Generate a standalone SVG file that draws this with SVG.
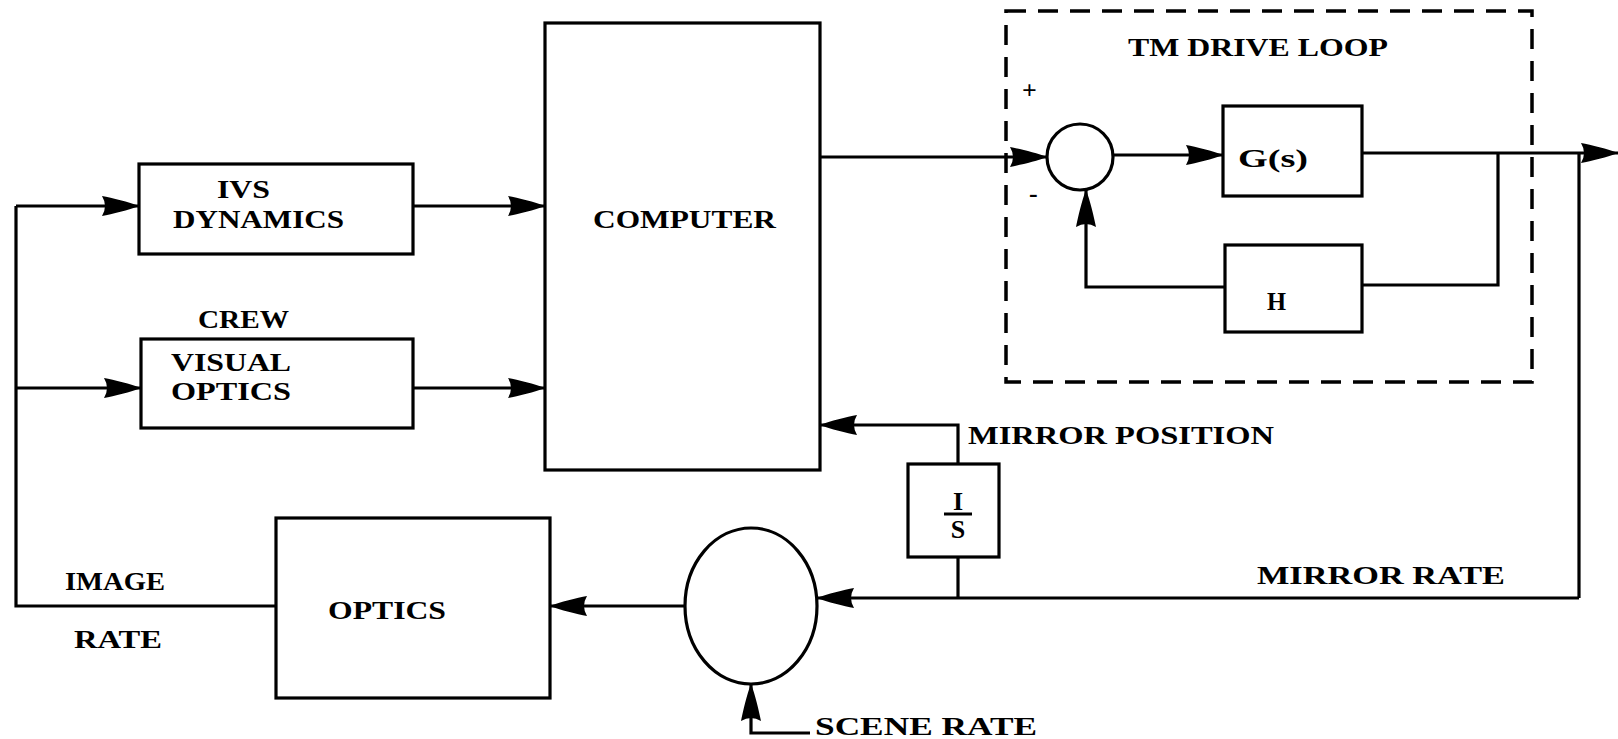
<svg xmlns="http://www.w3.org/2000/svg" width="1618" height="739" viewBox="0 0 1618 739">
<defs>
<marker id="ah" markerUnits="userSpaceOnUse" markerWidth="40" markerHeight="24" refX="37" refY="12" orient="auto" overflow="visible">
<path d="M0,2 C10,4 27,8 37,12 C27,16 10,20 0,22 Q6,12 0,2 Z" fill="#000"/>
</marker>
<style>
.box{fill:none;stroke:#000;stroke-width:3.2}
.ln{fill:none;stroke:#000;stroke-width:3.2;stroke-linejoin:miter}
.arr{fill:none;stroke:#000;stroke-width:3.2;marker-end:url(#ah)}
.dash{fill:none;stroke:#000;stroke-width:3.5;stroke-dasharray:20 12}
text{font-family:"Liberation Serif","DejaVu Serif",serif;font-weight:bold;font-size:26px;fill:#000}
</style>
</defs>
<rect width="1618" height="739" fill="#fff"/>

<g id="connectors">
<path class="ln" d="M276,606 H16 V206"/>
<path class="arr" d="M16,206 H139"/>
<path class="arr" d="M16,388 H141"/>
<path class="arr" d="M413,206 H545"/>
<path class="arr" d="M413,388 H545"/>
<path class="arr" d="M820,157 H1047"/>
<path class="arr" d="M1113,155 H1223"/>
<path class="arr" d="M1362,153 H1618"/>
<path class="ln" d="M1498,153 V285 H1362"/>
<path class="arr" d="M1225,287 H1086 V190"/>
<path class="ln" d="M1579,153 V598"/>
<path class="arr" d="M1579,598 H817"/>
<path class="ln" d="M958,598 V557"/>
<path class="arr" d="M958,464 V425 H820"/>
<path class="arr" d="M685,606 H550"/>
<path class="arr" d="M810,733 H751 V684"/>
</g>

<g id="ivs-dynamics">
<rect class="box" x="139" y="164" width="274" height="90"/>
<text x="217" y="198" textLength="53" lengthAdjust="spacingAndGlyphs">IVS</text>
<text x="173" y="228" textLength="171" lengthAdjust="spacingAndGlyphs">DYNAMICS</text>
</g>

<g id="crew-visual-optics">
<text x="198" y="328" textLength="91" lengthAdjust="spacingAndGlyphs">CREW</text>
<rect class="box" x="141" y="339" width="272" height="89"/>
<text x="171" y="371" textLength="120" lengthAdjust="spacingAndGlyphs">VISUAL</text>
<text x="171" y="400" textLength="120" lengthAdjust="spacingAndGlyphs">OPTICS</text>
</g>

<g id="computer">
<rect class="box" x="545" y="23" width="275" height="447"/>
<text x="593" y="228" textLength="183" lengthAdjust="spacingAndGlyphs">COMPUTER</text>
</g>

<g id="tm-drive-loop">
<rect class="dash" x="1006" y="11" width="526" height="371"/>
<text x="1128" y="56" textLength="260" lengthAdjust="spacingAndGlyphs">TM DRIVE LOOP</text>
<text x="1022" y="99" font-size="22">+</text>
<text x="1029" y="202" font-size="24">-</text>
</g>

<g id="sum-junction">
<circle cx="1080" cy="157" r="33" fill="#fff" stroke="#000" stroke-width="3.2"/>
</g>

<g id="g-s">
<rect class="box" x="1223" y="106" width="139" height="90"/>
<text x="1238" y="167" textLength="70" lengthAdjust="spacingAndGlyphs">G(s)</text>
</g>

<g id="h-block">
<rect class="box" x="1225" y="245" width="137" height="87"/>
<text x="1267" y="310" textLength="19" lengthAdjust="spacingAndGlyphs">H</text>
</g>

<g id="integrator">
<rect class="box" x="908" y="464" width="91" height="93"/>
<text x="958" y="510" text-anchor="middle">I</text>
<line x1="944" y1="514" x2="972" y2="514" stroke="#000" stroke-width="3"/>
<text x="958" y="538" text-anchor="middle">S</text>
</g>

<g id="labels">
<text x="968" y="444" textLength="306" lengthAdjust="spacingAndGlyphs">MIRROR POSITION</text>
<text x="1257" y="584" textLength="248" lengthAdjust="spacingAndGlyphs">MIRROR RATE</text>
<text x="65" y="590" textLength="100" lengthAdjust="spacingAndGlyphs">IMAGE</text>
<text x="74" y="648" textLength="88" lengthAdjust="spacingAndGlyphs">RATE</text>
<text x="815" y="735" textLength="222" lengthAdjust="spacingAndGlyphs">SCENE RATE</text>
</g>

<g id="mirror-junction">
<ellipse cx="751" cy="606" rx="66" ry="78" fill="#fff" stroke="#000" stroke-width="3.2"/>
</g>

<g id="optics">
<rect class="box" x="276" y="518" width="274" height="180"/>
<text x="328" y="619" textLength="118" lengthAdjust="spacingAndGlyphs">OPTICS</text>
</g>
</svg>
